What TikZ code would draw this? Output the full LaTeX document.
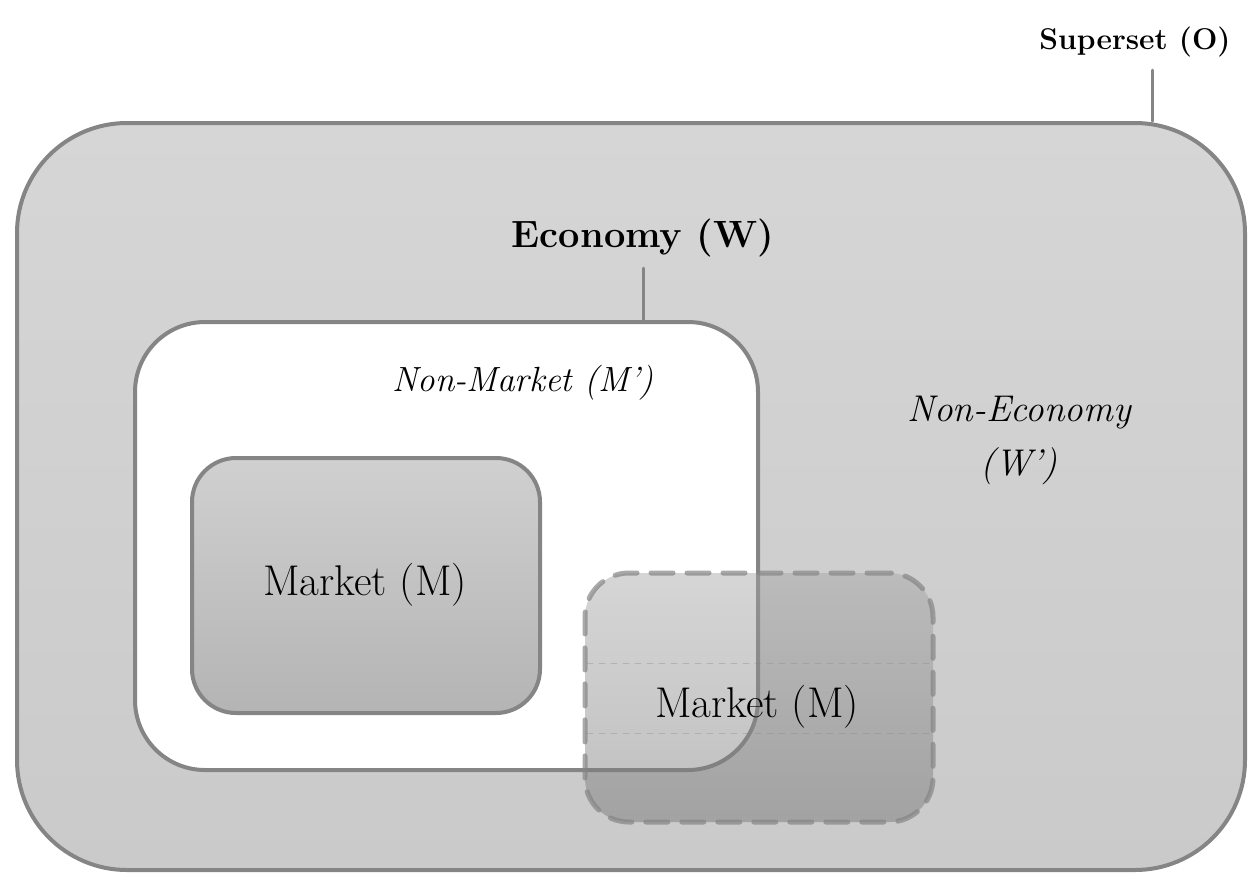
\documentclass[tikz,border=0pt]{standalone}
\usepackage{amsmath,amssymb}
\usetikzlibrary{calc, positioning}
\usepackage{xcolor}
\definecolor{setline}{HTML}{858585}
\definecolor{outertop}{HTML}{D6D6D6}
\definecolor{outerbot}{HTML}{CACACA}
\definecolor{markettop}{HTML}{D0D0D0}
\definecolor{marketbot}{HTML}{B4B4B4}
\definecolor{overtop}{HTML}{A4A4A4}
\definecolor{overbot}{HTML}{727272}

\tikzset{
  setbox/.style={draw=setline, line width=2pt, minimum width=#1},
  outerset/.style={setbox=614pt, minimum height=373.5pt, rounded corners=55pt,
    top color=outertop, bottom color=outerbot},
  econset/.style={setbox=311.5pt, minimum height=224pt, rounded corners=35pt, fill=white},
  marketset/.style={setbox=174pt, minimum height=127.5pt, rounded corners=22pt,
    top color=markettop, bottom color=marketbot},
  overlapset/.style={setbox=174pt, minimum height=124.5pt, rounded corners=22pt,
    dash pattern=on 11pt off 7pt, line width=2.5pt, draw opacity=0.7,
    top color=overtop, bottom color=overbot, fill opacity=0.45},
  tick/.style={draw=setline, line width=1.5pt},
  setlabel/.style={inner sep=0pt, text=black}
}

\begin{document}
\begin{tikzpicture}[line cap=round,line join=round,x=0.5pt,y=-0.5pt]
\useasboundingbox (0,0) rectangle (1248,875);

% Sets
\node [outerset] (outer) at (631,496.5) {};
\node [econset] (econ) at (446.5,546) {};
\node [marketset] (market) at (366,585.5) {};
\node [overlapset] (overlap) at (759,697.5) {};

% Faint scan lines in the overlap
\foreach \yy in {663,733}
\draw [setline, line width=0.3pt, dashed, opacity=0.35] (587,\yy) -- (931,\yy);

% Labels
\node [setlabel, font=\bfseries\fontsize{15}{18}\selectfont] (superlabel) at (1135,42) {Superset (O)};
\node [setlabel, font=\bfseries\fontsize{19}{23}\selectfont] (econlabel) at (643,238) {Economy (W)};
\node [setlabel, font=\itshape\fontsize{17.5}{21}\selectfont] (nonmarket) at (523,383) {Non-Market (M’)};
\node [setlabel, font=\itshape\fontsize{18.6}{22}\selectfont, align=center] (noneconomy) at (1019,440) {Non-Economy\\[5pt](W’)};
\node [setlabel, font=\fontsize{21.5}{25}\selectfont] (marketlabel) at (365,585) {Market (M)};
\node [setlabel, font=\fontsize{21.5}{25}\selectfont] (overlaplabel) at (757,707) {Market (M)};

% Ticks from labels to sets
\coordinate (supertick) at (1152,70);
\coordinate (econtick) at (643,268);
\draw [tick] (supertick) -- (supertick |- outer.north);
\draw [tick] (econtick) -- (econtick |- econ.north);
\end{tikzpicture}
\end{document}
